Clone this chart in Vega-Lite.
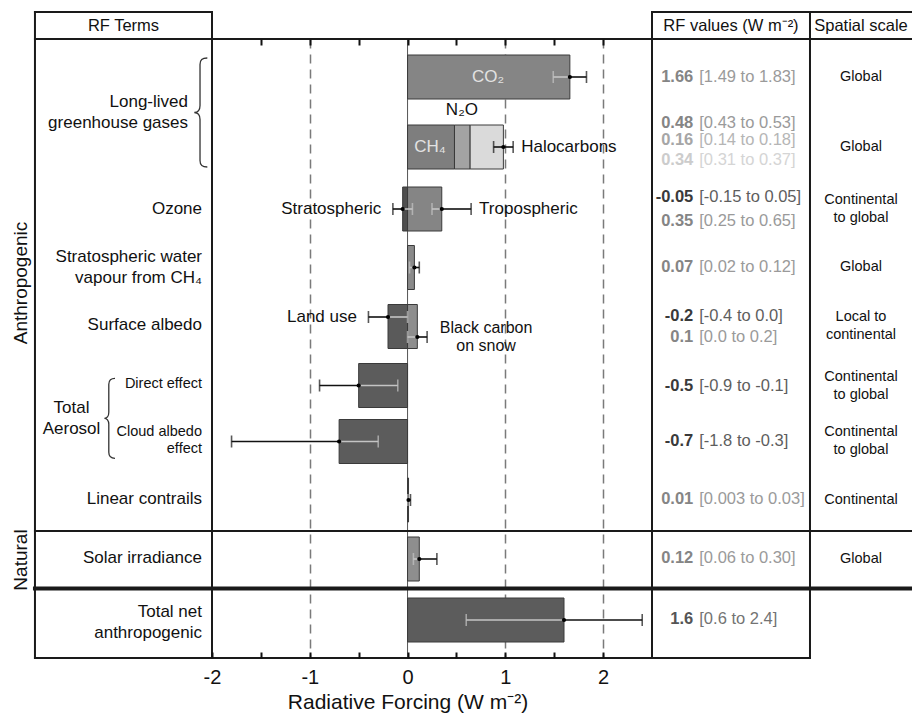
{
  "$schema": "https://vega.github.io/schema/vega-lite/v6.json",
  "width": 440,
  "height": 619,
  "autosize": {"type": "none"},
  "padding": {"left": 212, "top": 39, "right": 260, "bottom": 57},
  "background": "white",
  "config": {"view": {"stroke": null}, "font": "Liberation Sans"},
  "datasets": {
    "bars": [
      {"term": "CO2", "start": 0, "end": 1.66, "row": 3.8},
      {"term": "CH4", "start": 0, "end": 0.48, "row": 10.8},
      {"term": "N2O", "start": 0.48, "end": 0.64, "row": 10.8},
      {"term": "Halocarbons", "start": 0.64, "end": 0.98, "row": 10.8},
      {"term": "Stratospheric ozone", "start": 0, "end": -0.05, "row": 17.0},
      {"term": "Tropospheric ozone", "start": 0, "end": 0.35, "row": 17.0},
      {"term": "Stratospheric water vapour", "start": 0, "end": 0.07, "row": 22.85},
      {"term": "Land use albedo", "start": 0, "end": -0.2, "row": 28.75},
      {"term": "Black carbon on snow", "start": 0, "end": 0.1, "row": 28.75},
      {"term": "Direct aerosol", "start": 0, "end": -0.5, "row": 34.65},
      {"term": "Cloud albedo", "start": 0, "end": -0.7, "row": 40.25},
      {"term": "Linear contrails", "start": 0, "end": 0.01, "row": 46.1},
      {"term": "Solar irradiance", "start": 0, "end": 0.12, "row": 52.0},
      {"term": "Total net anthropogenic", "start": 0, "end": 1.6, "row": 58.1}
    ],
    "errors": [
      {"term": "CO2", "best": 1.66, "near": 1.49, "far": 1.83, "row": 3.8, "label": ""},
      {"term": "CH4 + N2O + Halocarbons", "best": 0.98, "near": 0.88, "far": 1.08, "row": 10.8, "label": "Halocarbons"},
      {"term": "Stratospheric ozone", "best": -0.05, "near": 0.05, "far": -0.15, "row": 17.0, "label": "Stratospheric"},
      {"term": "Tropospheric ozone", "best": 0.35, "near": 0.25, "far": 0.65, "row": 17.0, "label": "Tropospheric"},
      {"term": "Stratospheric water vapour", "best": 0.07, "near": 0.02, "far": 0.12, "row": 22.85, "label": ""},
      {"term": "Land use albedo", "best": -0.2, "near": 0.0, "far": -0.4, "row": 27.8, "label": "Land use"},
      {"term": "Black carbon on snow", "best": 0.1, "near": 0.0, "far": 0.2, "row": 29.8, "label": "Black carbon\non snow"},
      {"term": "Direct aerosol", "best": -0.5, "near": -0.1, "far": -0.9, "row": 34.65, "label": ""},
      {"term": "Cloud albedo", "best": -0.7, "near": -0.3, "far": -1.8, "row": 40.25, "label": ""},
      {"term": "Linear contrails", "best": 0.01, "near": 0.003, "far": 0.03, "row": 46.1, "label": ""},
      {"term": "Solar irradiance", "best": 0.12, "near": 0.06, "far": 0.30, "row": 52.0, "label": ""},
      {"term": "Total net anthropogenic", "best": 1.6, "near": 0.6, "far": 2.4, "row": 58.1, "label": ""}
    ],
    "rfvalues": [
      {"term": "CO2", "best": "1.66", "range": "[1.49 to 1.83]", "row": 3.8},
      {"term": "CH4", "best": "0.48", "range": "[0.43 to 0.53]", "row": 8.4},
      {"term": "N2O", "best": "0.16", "range": "[0.14 to 0.18]", "row": 10.1},
      {"term": "Halocarbons", "best": "0.34", "range": "[0.31 to 0.37]", "row": 12.1},
      {"term": "Stratospheric ozone", "best": "-0.05", "range": "[-0.15 to 0.05]", "row": 15.8},
      {"term": "Tropospheric ozone", "best": "0.35", "range": "[0.25 to 0.65]", "row": 18.2},
      {"term": "Stratospheric water vapour", "best": "0.07", "range": "[0.02 to 0.12]", "row": 22.8},
      {"term": "Land use albedo", "best": "-0.2", "range": "[-0.4 to 0.0]", "row": 27.7},
      {"term": "Black carbon on snow", "best": "0.1", "range": "[0.0 to 0.2]", "row": 29.8},
      {"term": "Direct aerosol", "best": "-0.5", "range": "[-0.9 to -0.1]", "row": 34.7},
      {"term": "Cloud albedo", "best": "-0.7", "range": "[-1.8 to -0.3]", "row": 40.2},
      {"term": "Linear contrails", "best": "0.01", "range": "[0.003 to 0.03]", "row": 46.0},
      {"term": "Solar irradiance", "best": "0.12", "range": "[0.06 to 0.30]", "row": 51.9},
      {"term": "Total net anthropogenic", "best": "1.6", "range": "[0.6 to 2.4]", "row": 58.0}
    ],
    "spatial": [
      {"scale": "Global", "row": 3.8},
      {"scale": "Global", "row": 10.8},
      {"scale": "Continental\nto global", "row": 17.0},
      {"scale": "Global", "row": 22.8},
      {"scale": "Local to\ncontinental", "row": 28.7},
      {"scale": "Continental\nto global", "row": 34.7},
      {"scale": "Continental\nto global", "row": 40.2},
      {"scale": "Continental", "row": 46.1},
      {"scale": "Global", "row": 52.0}
    ]
  },
  "layer": [
    {
      "data": {"values": [{}]},
      "mark": {"type": "rule", "color": "#555555", "strokeWidth": 1},
      "encoding": {
        "x": {"datum": 0, "type": "quantitative",
          "scale": {"domain": [-2, 2.5], "nice": false, "zero": false, "padding": 0},
          "axis": {"orient": "top", "values": [-1, 1, 2], "grid": true, "gridDash": [9, 6], "gridColor": "#7a7a7a", "gridWidth": 1.5, "ticks": false, "labels": false, "domain": false, "title": null, "zindex": 0}}
      }
    },
    {
      "data": {"name": "bars"},
      "mark": {"type": "bar", "size": 44, "stroke": "#3a3a3a", "strokeWidth": 1},
      "encoding": {
        "x": {"field": "start", "type": "quantitative",
          "scale": {"domain": [-2, 2.5], "nice": false, "zero": false, "padding": 0},
          "axis": {"orient": "bottom", "values": [-2, -1.5, -1, -0.5, 0, 0.5, 1, 1.5, 2],
            "labelExpr": "datum.value % 1 === 0 ? '' + datum.value : ''",
            "domain": false, "grid": false, "ticks": true, "tickSize": -6, "tickWidth": 2, "tickColor": "#111111",
            "labelPadding": 15.5, "labelFontSize": 20, "labelColor": "#111111", "labelFlush": false, "labelOverlap": false, "labelBound": false,
            "title": "Radiative Forcing  (W m⁻²)", "titleFontSize": 21, "titleFontWeight": "normal", "titleColor": "#111111",
            "titleX": 195.5, "titleY": 33, "zindex": 1}},
        "x2": {"field": "end"},
        "y": {"field": "row", "type": "quantitative", "scale": {"domain": [0, 61.9], "reverse": true, "nice": false, "zero": false, "padding": 0}, "axis": null},
        "fill": {"field": "term", "type": "nominal", "legend": null,
          "scale": {"domain": ["CO2", "CH4", "N2O", "Halocarbons", "Stratospheric ozone", "Tropospheric ozone", "Stratospheric water vapour", "Land use albedo", "Black carbon on snow", "Direct aerosol", "Cloud albedo", "Linear contrails", "Solar irradiance", "Total net anthropogenic"],
            "range": ["#858585", "#7e7e7e", "#a3a3a3", "#dadada", "#4e4e4e", "#858585", "#8a8a8a", "#5a5a5a", "#8e8e8e", "#5c5c5c", "#5c5c5c", "#666666", "#8e8e8e", "#5c5c5c"]}}
      }
    },
    {
      "data": {"name": "errors"},
      "mark": {"type": "rule", "color": "#111111", "strokeWidth": 1.6},
      "encoding": {
        "x": {"field": "best", "type": "quantitative",
          "axis": {"orient": "top", "values": [-1.5, -1, -0.5, 0, 0.5, 1, 1.5, 2], "labels": false, "domain": false, "grid": false, "ticks": true, "tickSize": -6, "tickWidth": 2, "tickColor": "#111111", "title": null, "zindex": 1}},
        "x2": {"field": "far"},
        "y": {"field": "row", "type": "quantitative", "axis": null}
      }
    },
    {
      "data": {"name": "errors"},
      "mark": {"type": "rule", "strokeWidth": 1.6},
      "encoding": {
        "x": {"field": "best", "type": "quantitative", "axis": null},
        "x2": {"field": "near"},
        "y": {"field": "row", "type": "quantitative", "axis": null},
        "color": {"condition": {"test": "datum.term === 'CH4 + N2O + Halocarbons'", "value": "#111111"}, "value": "#c4c4c4"}
      }
    },
    {
      "data": {"name": "errors"},
      "mark": {"type": "tick", "orient": "vertical", "size": 12, "thickness": 1.6, "color": "#111111"},
      "encoding": {
        "x": {"field": "far", "type": "quantitative", "axis": null},
        "y": {"field": "row", "type": "quantitative", "axis": null}
      }
    },
    {
      "data": {"name": "errors"},
      "mark": {"type": "tick", "orient": "vertical", "size": 12, "thickness": 1.6},
      "encoding": {
        "x": {"field": "near", "type": "quantitative", "axis": null},
        "y": {"field": "row", "type": "quantitative", "axis": null},
        "color": {"condition": {"test": "datum.term === 'CH4 + N2O + Halocarbons'", "value": "#111111"}, "value": "#c4c4c4"}
      }
    },
    {
      "data": {"name": "errors"},
      "mark": {"type": "circle", "size": 18, "color": "#000000", "opacity": 1},
      "encoding": {
        "x": {"field": "best", "type": "quantitative", "axis": null},
        "y": {"field": "row", "type": "quantitative", "axis": null}
      }
    },
    {
      "data": {"name": "errors"},
      "transform": [{"filter": "datum.label !== '' && datum.far > 0 && datum.term !== 'Black carbon on snow'"}],
      "mark": {"type": "text", "align": "left", "baseline": "middle", "dx": 8, "fontSize": 17, "color": "#111111"},
      "encoding": {
        "x": {"field": "far", "type": "quantitative", "axis": null},
        "y": {"field": "row", "type": "quantitative", "axis": null},
        "text": {"field": "label"}
      }
    },
    {
      "data": {"name": "errors"},
      "transform": [{"filter": "datum.label !== '' && datum.far < 0"}],
      "mark": {"type": "text", "align": "right", "baseline": "middle", "dx": -11.5, "fontSize": 17, "color": "#111111"},
      "encoding": {
        "x": {"field": "far", "type": "quantitative", "axis": null},
        "y": {"field": "row", "type": "quantitative", "axis": null},
        "text": {"field": "label"}
      }
    },
    {
      "data": {"name": "errors"},
      "transform": [{"filter": "datum.term === 'Black carbon on snow'"}],
      "mark": {"type": "text", "align": "center", "baseline": "middle", "dx": 59, "dy": -9, "fontSize": 16, "lineBreak": "\n", "lineHeight": 18, "color": "#111111"},
      "encoding": {
        "x": {"field": "far", "type": "quantitative", "axis": null},
        "y": {"field": "row", "type": "quantitative", "axis": null},
        "text": {"field": "label"}
      }
    },
    {
      "data": {"values": [{"t": "CO₂", "x": 0.823, "row": 3.8}, {"t": "CH₄", "x": 0.229, "row": 10.8}]},
      "mark": {"type": "text", "align": "center", "baseline": "middle", "fontSize": 17, "color": "#e2e2e2"},
      "encoding": {
        "x": {"field": "x", "type": "quantitative", "axis": null},
        "y": {"field": "row", "type": "quantitative", "axis": null},
        "text": {"field": "t"}
      }
    },
    {
      "data": {"values": [{}]},
      "mark": {"type": "text", "align": "center", "baseline": "middle", "fontSize": 17, "color": "#111111", "text": "N₂O"},
      "encoding": {
        "x": {"datum": 0.556, "type": "quantitative", "axis": null},
        "y": {"datum": 7.1, "type": "quantitative", "axis": null}
      }
    },
    {
      "data": {"values": [
        {"t": "Ozone", "row": 17.0},
        {"t": "Surface albedo", "row": 28.6},
        {"t": "Linear contrails", "row": 46.0},
        {"t": "Solar irradiance", "row": 51.9}
      ]},
      "mark": {"type": "text", "align": "right", "baseline": "middle", "fontSize": 17, "color": "#111111"},
      "encoding": {
        "x": {"datum": -2.1023, "type": "quantitative", "axis": null},
        "y": {"field": "row", "type": "quantitative", "axis": null},
        "text": {"field": "t"}
      }
    },
    {
      "data": {"values": [
        {"t": "Stratospheric water\nvapour from CH₄", "row": 22.85},
        {"t": "Total net\nanthropogenic", "row": 58.3}
      ]},
      "mark": {"type": "text", "align": "right", "baseline": "middle", "fontSize": 17, "lineBreak": "\n", "lineHeight": 21, "dy": -10.5, "color": "#111111"},
      "encoding": {
        "x": {"datum": -2.1023, "type": "quantitative", "axis": null},
        "y": {"field": "row", "type": "quantitative", "axis": null},
        "text": {"field": "t"}
      }
    },
    {
      "data": {"values": [{"t": "Long-lived\ngreenhouse gases", "row": 7.32}]},
      "mark": {"type": "text", "align": "right", "baseline": "middle", "fontSize": 17, "lineBreak": "\n", "lineHeight": 21, "dy": -10.5, "color": "#111111"},
      "encoding": {
        "x": {"datum": -2.2455, "type": "quantitative", "axis": null},
        "y": {"field": "row", "type": "quantitative", "axis": null},
        "text": {"field": "t"}
      }
    },
    {
      "data": {"values": [{"t": "Direct effect", "row": 34.5}]},
      "mark": {"type": "text", "align": "right", "baseline": "middle", "fontSize": 14.5, "color": "#111111"},
      "encoding": {
        "x": {"datum": -2.1023, "type": "quantitative", "axis": null},
        "y": {"field": "row", "type": "quantitative", "axis": null},
        "text": {"field": "t"}
      }
    },
    {
      "data": {"values": [{"t": "Cloud albedo\neffect", "row": 40.15}]},
      "mark": {"type": "text", "align": "right", "baseline": "middle", "fontSize": 14.5, "lineBreak": "\n", "lineHeight": 17, "dy": -8.5, "color": "#111111"},
      "encoding": {
        "x": {"datum": -2.1023, "type": "quantitative", "axis": null},
        "y": {"field": "row", "type": "quantitative", "axis": null},
        "text": {"field": "t"}
      }
    },
    {
      "data": {"values": [{"t": "Total\nAerosol", "row": 37.95}]},
      "mark": {"type": "text", "align": "center", "baseline": "middle", "fontSize": 17, "lineBreak": "\n", "lineHeight": 21, "dy": -10.5, "color": "#111111"},
      "encoding": {
        "x": {"datum": -3.4369, "type": "quantitative", "axis": null},
        "y": {"field": "row", "type": "quantitative", "axis": null},
        "text": {"field": "t"}
      }
    },
    {
      "data": {"values": [{}]},
      "mark": {"type": "point", "filled": false, "stroke": "#333333", "strokeWidth": 1.3, "opacity": 1, "size": 11881,
        "shape": "M0.116,-1 C0.02,-1 -0.018,-0.97 -0.018,-0.88 L-0.018,-0.13 C-0.018,-0.04 -0.06,0 -0.123,0 C-0.06,0 -0.018,0.04 -0.018,0.13 L-0.018,0.88 C-0.018,0.97 0.02,1 0.116,1"},
      "encoding": {
        "x": {"datum": -2.1125, "type": "quantitative", "axis": null},
        "y": {"datum": 7.35, "type": "quantitative", "axis": null}
      }
    },
    {
      "data": {"values": [{}]},
      "mark": {"type": "point", "filled": false, "stroke": "#333333", "strokeWidth": 1.3, "opacity": 1, "size": 6400,
        "shape": "M0.125,-1 C0.03,-1 -0.03,-0.96 -0.03,-0.85 L-0.03,-0.15 C-0.03,-0.05 -0.08,0 -0.14,0 C-0.08,0 -0.03,0.05 -0.03,0.15 L-0.03,0.85 C-0.03,0.96 0.03,1 0.125,1"},
      "encoding": {
        "x": {"datum": -3.0432, "type": "quantitative", "axis": null},
        "y": {"datum": 37.93, "type": "quantitative", "axis": null}
      }
    },
    {
      "data": {"values": [{"t": "Anthropogenic", "row": 24.4}, {"t": "Natural", "row": 52.1}]},
      "mark": {"type": "text", "align": "center", "baseline": "middle", "angle": 270, "fontSize": 19, "color": "#111111"},
      "encoding": {
        "x": {"datum": -3.9538, "type": "quantitative", "axis": null},
        "y": {"field": "row", "type": "quantitative", "axis": null},
        "text": {"field": "t"}
      }
    },
    {
      "data": {"values": [{"t": "RF Terms", "x": -2.9051}, {"t": "RF values (W m⁻²)", "x": 3.3079}, {"t": "Spatial scale", "x": 4.6374}]},
      "mark": {"type": "text", "align": "center", "baseline": "middle", "fontSize": 16.5, "color": "#111111"},
      "encoding": {
        "x": {"field": "x", "type": "quantitative", "axis": null},
        "y": {"datum": -1.27, "type": "quantitative", "axis": null},
        "text": {"field": "t"}
      }
    },
    {
      "data": {"name": "rfvalues"},
      "mark": {"type": "text", "align": "right", "baseline": "middle", "fontSize": 16.5, "fontWeight": "bold"},
      "encoding": {
        "x": {"datum": 2.9222, "type": "quantitative", "axis": null},
        "y": {"field": "row", "type": "quantitative", "axis": null},
        "text": {"field": "best"},
        "color": {"field": "term", "type": "nominal", "legend": null,
          "scale": {"domain": ["CO2", "CH4", "N2O", "Halocarbons", "Stratospheric ozone", "Tropospheric ozone", "Stratospheric water vapour", "Land use albedo", "Black carbon on snow", "Direct aerosol", "Cloud albedo", "Linear contrails", "Solar irradiance", "Total net anthropogenic"],
            "range": ["#858585", "#858585", "#a6a6a6", "#cccccc", "#3a3a3a", "#858585", "#858585", "#3a3a3a", "#858585", "#3a3a3a", "#3a3a3a", "#858585", "#858585", "#555555"]}}
      }
    },
    {
      "data": {"name": "rfvalues"},
      "mark": {"type": "text", "align": "left", "baseline": "middle", "fontSize": 16.5, "opacity": 0.82},
      "encoding": {
        "x": {"datum": 2.9836, "type": "quantitative", "axis": null},
        "y": {"field": "row", "type": "quantitative", "axis": null},
        "text": {"field": "range"},
        "color": {"field": "term", "type": "nominal", "legend": null}
      }
    },
    {
      "data": {"name": "spatial"},
      "transform": [{"filter": "indexof(datum.scale, '\\n') < 0"}],
      "mark": {"type": "text", "align": "center", "baseline": "middle", "fontSize": 14.5, "color": "#111111"},
      "encoding": {
        "x": {"datum": 4.6374, "type": "quantitative", "axis": null},
        "y": {"field": "row", "type": "quantitative", "axis": null},
        "text": {"field": "scale"}
      }
    },
    {
      "data": {"name": "spatial"},
      "transform": [{"filter": "indexof(datum.scale, '\\n') >= 0"}],
      "mark": {"type": "text", "align": "center", "baseline": "middle", "fontSize": 14.5, "lineBreak": "\n", "lineHeight": 18, "dy": -9, "color": "#111111"},
      "encoding": {
        "x": {"datum": 4.6374, "type": "quantitative", "axis": null},
        "y": {"field": "row", "type": "quantitative", "axis": null},
        "text": {"field": "scale"}
      }
    },
    {
      "data": {"values": [{}]},
      "mark": {"type": "rule", "color": "#1a1a1a", "strokeWidth": 2, "strokeCap": "square"},
      "encoding": {"x": {"datum": -3.8106, "type": "quantitative", "axis": null}, "x2": {"datum": -2.0}, "y": {"datum": -2.7, "type": "quantitative", "axis": null}}
    },
    {
      "data": {"values": [{}]},
      "mark": {"type": "rule", "color": "#1a1a1a", "strokeWidth": 2, "strokeCap": "square"},
      "encoding": {"x": {"datum": 2.5, "type": "quantitative", "axis": null}, "x2": {"datum": 5.3}, "y": {"datum": -2.7, "type": "quantitative", "axis": null}}
    },
    {
      "data": {"values": [{}]},
      "mark": {"type": "rule", "color": "#1a1a1a", "strokeWidth": 2, "strokeCap": "square"},
      "encoding": {"x": {"datum": -3.8106, "type": "quantitative", "axis": null}, "x2": {"datum": 5.3}, "y": {"datum": 0, "type": "quantitative", "axis": null}}
    },
    {
      "data": {"values": [{}]},
      "mark": {"type": "rule", "color": "#1a1a1a", "strokeWidth": 2, "strokeCap": "square"},
      "encoding": {"x": {"datum": -3.8106, "type": "quantitative", "axis": null}, "x2": {"datum": 5.3}, "y": {"datum": 49.2, "type": "quantitative", "axis": null}}
    },
    {
      "data": {"values": [{}]},
      "mark": {"type": "rule", "color": "#1a1a1a", "strokeWidth": 4, "strokeCap": "square"},
      "encoding": {"x": {"datum": -3.8106, "type": "quantitative", "axis": null}, "x2": {"datum": 5.3}, "y": {"datum": 54.95, "type": "quantitative", "axis": null}}
    },
    {
      "data": {"values": [{}]},
      "mark": {"type": "rule", "color": "#1a1a1a", "strokeWidth": 2, "strokeCap": "square"},
      "encoding": {"x": {"datum": -3.8106, "type": "quantitative", "axis": null}, "x2": {"datum": 4.1158}, "y": {"datum": 61.9, "type": "quantitative", "axis": null}}
    },
    {
      "data": {"values": [{}]},
      "mark": {"type": "rule", "color": "#1a1a1a", "strokeWidth": 2, "strokeCap": "square"},
      "encoding": {"x": {"datum": -3.8106, "type": "quantitative", "axis": null}, "y": {"datum": -2.7, "type": "quantitative", "axis": null}, "y2": {"datum": 61.9}}
    },
    {
      "data": {"values": [{}]},
      "mark": {"type": "rule", "color": "#1a1a1a", "strokeWidth": 2, "strokeCap": "square"},
      "encoding": {"x": {"datum": -2.0, "type": "quantitative", "axis": null}, "y": {"datum": -2.7, "type": "quantitative", "axis": null}, "y2": {"datum": 61.9}}
    },
    {
      "data": {"values": [{}]},
      "mark": {"type": "rule", "color": "#1a1a1a", "strokeWidth": 2, "strokeCap": "square"},
      "encoding": {"x": {"datum": 2.5, "type": "quantitative", "axis": null}, "y": {"datum": -2.7, "type": "quantitative", "axis": null}, "y2": {"datum": 61.9}}
    },
    {
      "data": {"values": [{}]},
      "mark": {"type": "rule", "color": "#1a1a1a", "strokeWidth": 2, "strokeCap": "square"},
      "encoding": {"x": {"datum": 4.1158, "type": "quantitative", "axis": null}, "y": {"datum": -2.7, "type": "quantitative", "axis": null}, "y2": {"datum": 61.9}}
    }
  ],
  "resolve": {"axis": {"x": "independent"}}
}
